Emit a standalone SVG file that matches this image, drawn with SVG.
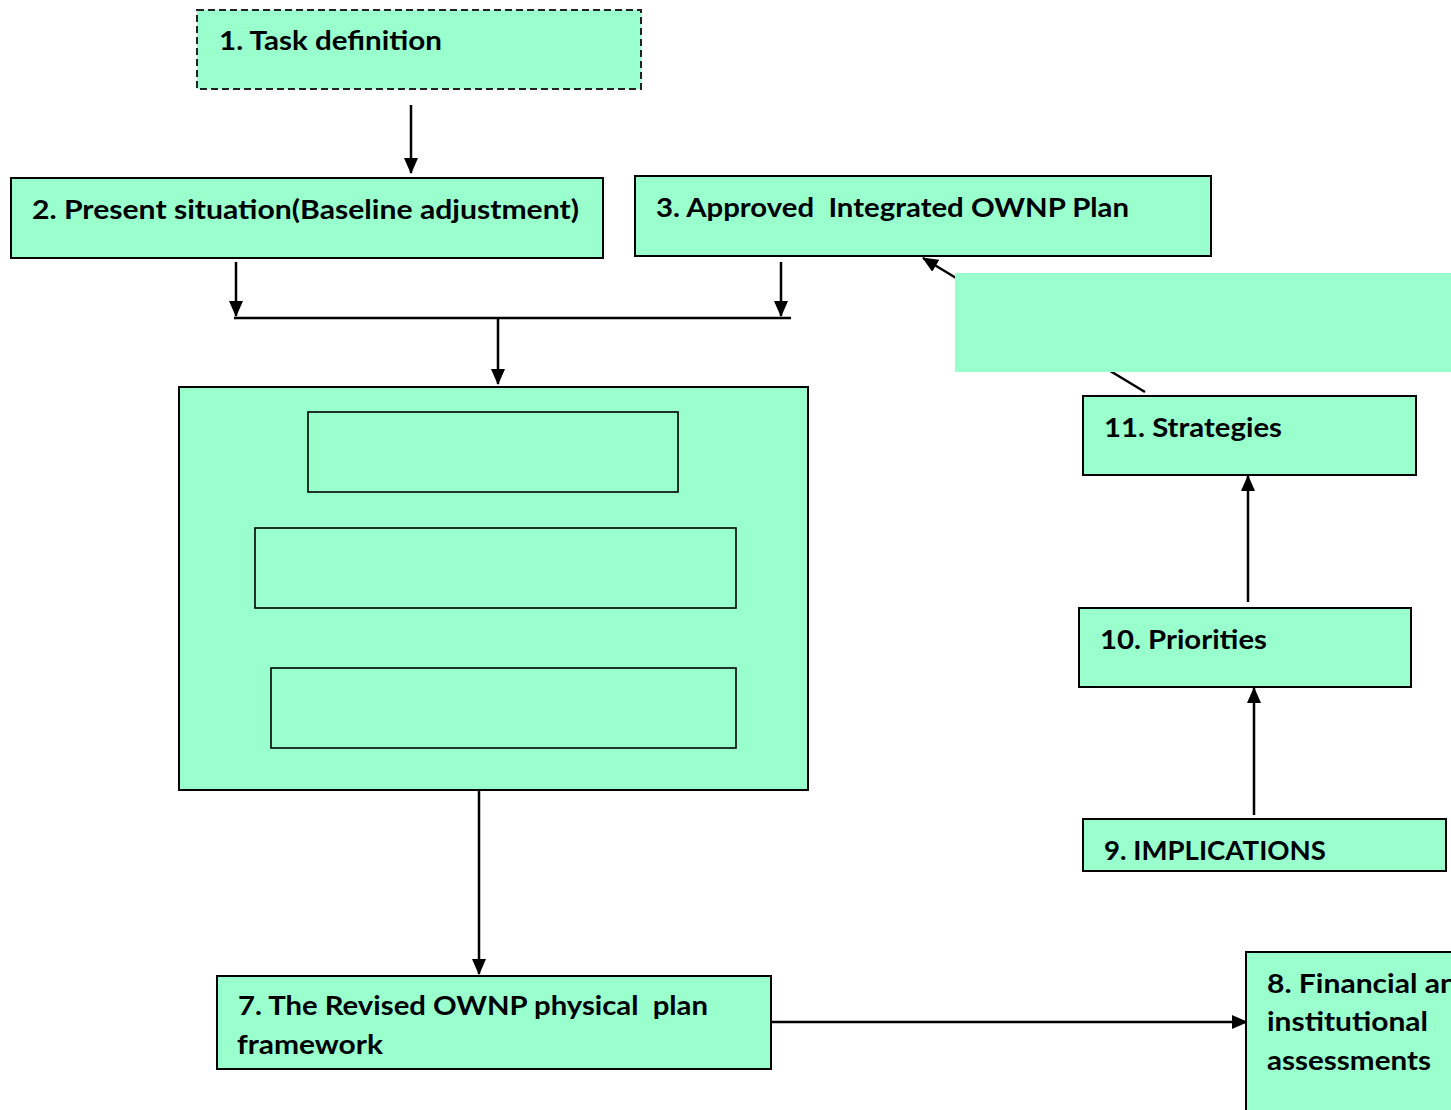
<svg xmlns="http://www.w3.org/2000/svg" width="1451" height="1110" viewBox="0 0 1451 1110">
  <style>
    .box { fill: #99FFCC; stroke: #000; stroke-width: 2; }
    .inner { fill: #99FFCC; stroke: #000; stroke-width: 1.6; }
    .dash { fill: #99FFCC; stroke: #222; stroke-width: 2; stroke-dasharray: 7 4; }
    .lbl { font-family: Lato, "Open Sans", "Liberation Sans", sans-serif; font-weight: bold; font-size: 27px; fill: #000; white-space: pre; }
    .wire { fill: none; stroke: #000; stroke-width: 2.5; }
    .arrow { fill: none; stroke: #000; stroke-width: 2.5; marker-end: url(#head); }
  </style>
  <defs>
    <marker id="head" viewBox="0 0 16 14" refX="15" refY="7" markerWidth="16" markerHeight="14" markerUnits="userSpaceOnUse" orient="auto">
      <path d="M0,0 L16,7 L0,14 Z" fill="#000"/>
    </marker>
  </defs>
  <rect width="1451" height="1110" fill="#fff"/>

  <g id="connectors">
    <line class="arrow" x1="411" y1="105" x2="411" y2="173"/>
    <line class="arrow" x1="236" y1="262" x2="236" y2="316"/>
    <line class="arrow" x1="781" y1="262" x2="781" y2="316"/>
    <line class="wire" x1="234" y1="318" x2="791" y2="318"/>
    <line class="arrow" x1="498" y1="318" x2="498" y2="384"/>
    <line class="arrow" x1="479" y1="790" x2="479" y2="974"/>
    <line class="arrow" x1="771" y1="1022" x2="1247" y2="1022"/>
    <line class="arrow" x1="1254" y1="815" x2="1254" y2="688"/>
    <line class="arrow" x1="1248" y1="602" x2="1248" y2="476"/>
    <line class="arrow" x1="1145" y1="392" x2="923" y2="258"/>
  </g>

  <!-- opaque panel lying over the strategies connector -->
  <rect id="panel" x="955" y="273" width="496" height="99" fill="#99FFCC"/>

  <g id="n1">
    <rect class="dash" x="197" y="10" width="444" height="79"/>
    <text class="lbl" x="219" y="50" textLength="223" lengthAdjust="spacingAndGlyphs">1. Task definition</text>
  </g>
  <g id="n2">
    <rect class="box" x="11" y="178" width="592" height="80"/>
    <text class="lbl" x="32" y="219" textLength="547" lengthAdjust="spacingAndGlyphs">2. Present situation(Baseline adjustment)</text>
  </g>
  <g id="n3">
    <rect class="box" x="635" y="176" width="576" height="80"/>
    <text class="lbl" x="656" y="217" textLength="473" lengthAdjust="spacingAndGlyphs">3. Approved  Integrated OWNP Plan</text>
  </g>
  <g id="n4">
    <rect class="box" x="179" y="387" width="629" height="403"/>
    <rect class="inner" x="308" y="412" width="370" height="80"/>
    <rect class="inner" x="255" y="528" width="481" height="80"/>
    <rect class="inner" x="271" y="668" width="465" height="80"/>
  </g>
  <g id="n7">
    <rect class="box" x="217" y="976" width="554" height="93"/>
    <text class="lbl" x="238" y="1015" textLength="470" lengthAdjust="spacingAndGlyphs">7. The Revised OWNP physical  plan</text>
    <text class="lbl" x="237" y="1054" textLength="146" lengthAdjust="spacingAndGlyphs">framework</text>
  </g>
  <g id="n8">
    <rect class="box" x="1246" y="952" width="230" height="180"/>
    <text class="lbl" x="1267" y="993" textLength="207" lengthAdjust="spacingAndGlyphs">8. Financial and</text>
    <text class="lbl" x="1267" y="1031" textLength="161" lengthAdjust="spacingAndGlyphs">institutional</text>
    <text class="lbl" x="1267" y="1070" textLength="164" lengthAdjust="spacingAndGlyphs">assessments</text>
  </g>
  <g id="n9">
    <rect class="box" x="1083" y="819" width="363" height="52"/>
    <text class="lbl" x="1104" y="860" textLength="222" lengthAdjust="spacingAndGlyphs">9. IMPLICATIONS</text>
  </g>
  <g id="n10">
    <rect class="box" x="1079" y="608" width="332" height="79"/>
    <text class="lbl" x="1100" y="649" textLength="167" lengthAdjust="spacingAndGlyphs">10. Priorities</text>
  </g>
  <g id="n11">
    <rect class="box" x="1083" y="396" width="333" height="79"/>
    <text class="lbl" x="1104" y="437" textLength="178" lengthAdjust="spacingAndGlyphs">11. Strategies</text>
  </g>
</svg>
